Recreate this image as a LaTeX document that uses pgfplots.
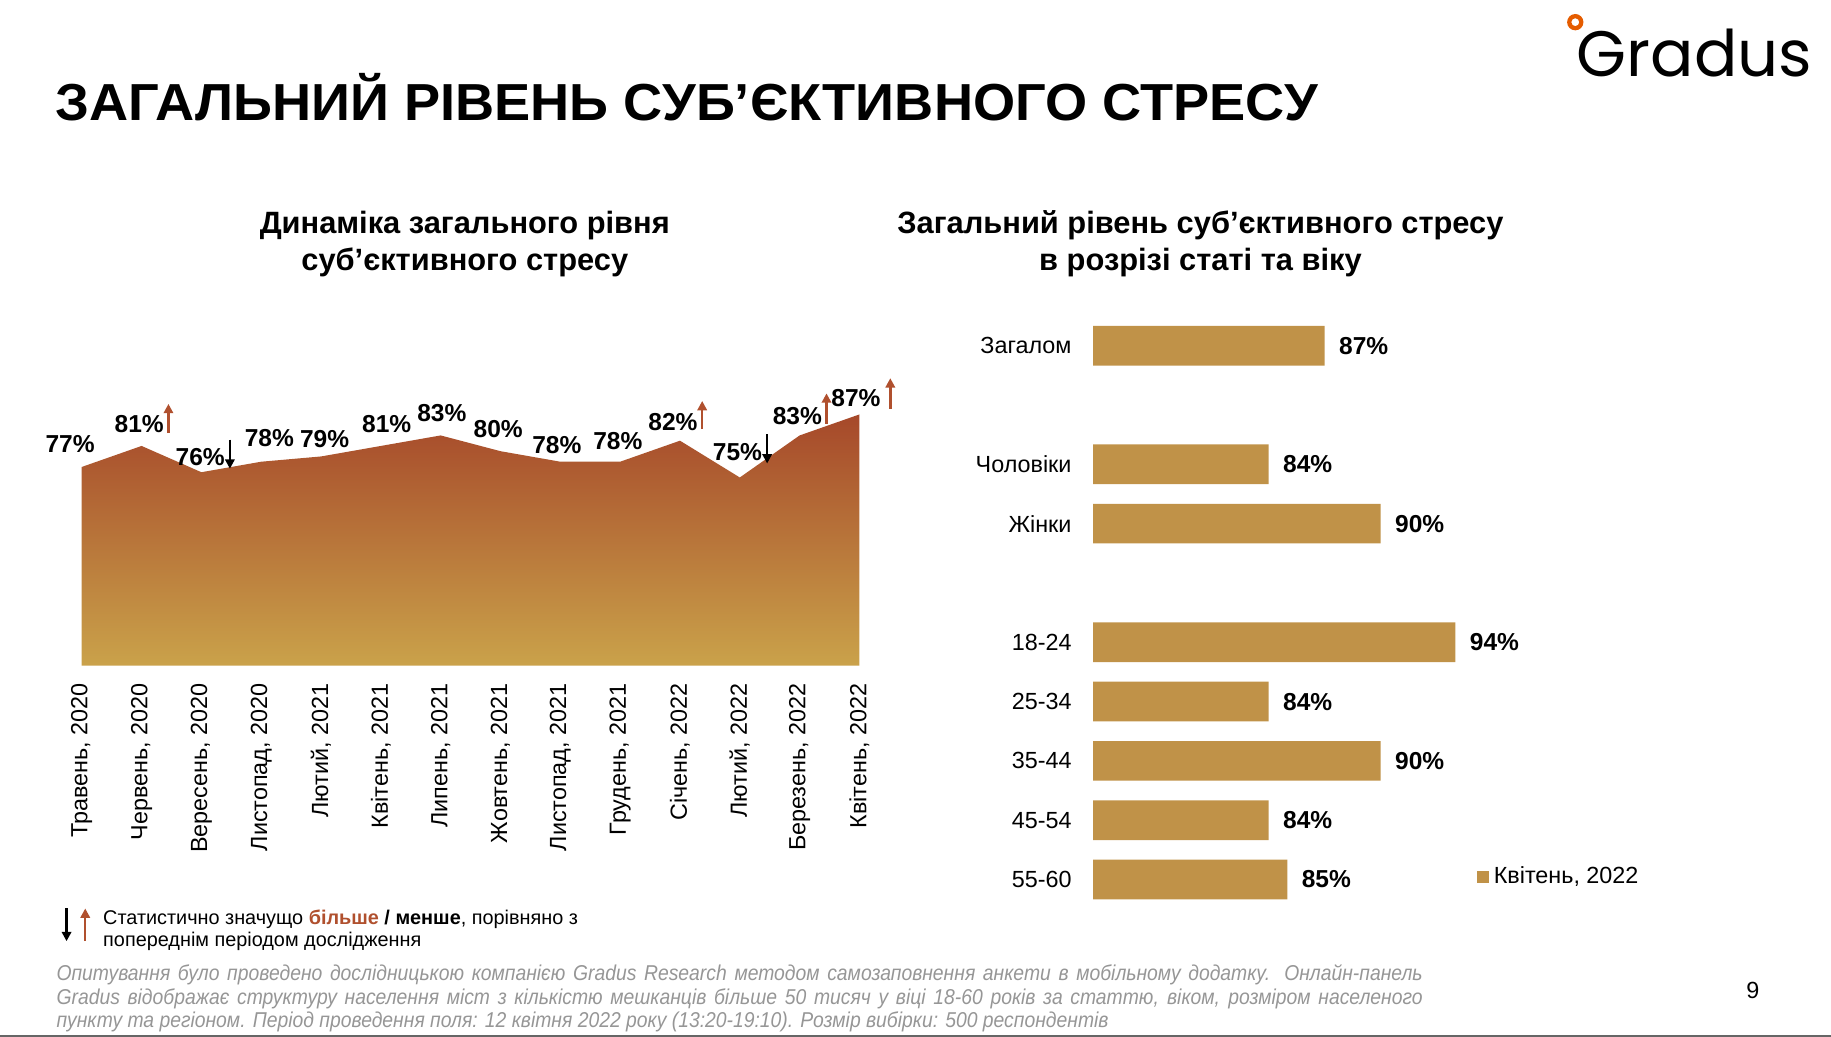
\documentclass[border=0pt]{standalone}
\usepackage{fontspec}
\setmainfont{Liberation Sans}
\newfontfamily\logofont{Poppins}
\newfontfamily\narrowfont[FakeStretch=0.9]{Liberation Sans}
\newfontfamily\titlefont[FakeStretch=1.04]{Liberation Sans}
\usepackage{pgfplots}
\pgfplotsset{compat=1.18}
\usepackage{pgfplotstable}
\usetikzlibrary{arrows.meta}
\definecolor{rust}{RGB}{166,72,42}
\definecolor{gold}{RGB}{202,162,74}
\definecolor{barcol}{RGB}{192,146,72}
\definecolor{arrowred}{RGB}{176,80,46}
\definecolor{notegray}{RGB}{150,150,150}

\pgfplotstableread{
idx v
0 77
1 81
2 76
3 78
4 79
5 81
6 83
7 80
8 78
9 78
10 82
11 75
12 83
13 87
}\dyn

\pgfplotstableread{
pos v
0 87
2 84
3 90
5 94
6 84
7 90
8 84
9 85
}\bars

\tikzset{
  uparr/.style={arrowred, line width=1.1pt, -{Triangle[width=4pt,length=4pt]}},
  downarr/.style={black, line width=1.1pt, -{Triangle[width=4pt,length=4pt]}},
  lbl/.style={font=\bfseries\fontsize{10.5}{12}\selectfont, inner sep=0pt},
}

\begin{document}
\begin{tikzpicture}
\useasboundingbox (0,0) rectangle (784pt,444pt);

% Title
\node[anchor=west, font=\titlefont\bfseries\fontsize{22.3}{24}\selectfont, inner sep=0pt] at (23.5pt,402.5pt) {ЗАГАЛЬНИЙ РІВЕНЬ СУБ’ЄКТИВНОГО СТРЕСУ};

% Logo
\fill[orange!80!red!90!black, even odd rule] (674.5pt,434.5pt) circle (3.5pt) circle (1.7pt);
\node[anchor=west, font=\logofont\fontsize{27.5}{30}\selectfont, inner sep=0pt] at (675pt,421.5pt) {Gradus};

% Subtitles
\node[align=center, font=\bfseries\fontsize{13.2}{16}\selectfont, inner sep=0pt] at (199pt,339.5pt) {Динаміка загального рівня\\суб’єктивного стресу};
\node[align=center, font=\bfseries\fontsize{13.2}{16}\selectfont, inner sep=0pt] at (514pt,339.5pt) {Загальний рівень суб’єктивного стресу\\в розрізі статі та віку};

% Left: area chart
\begin{axis}[
  at={(35pt,159pt)}, anchor=south west,
  width=333pt, height=136.8pt, scale only axis,
  xmin=0, xmax=13, ymin=39.2, ymax=100,
  clip=false,
  axis line style={draw=none},
  major tick length=0pt,
  ytick=\empty,
  xtick={0,...,13},
  xticklabels={{Травень, 2020},{Червень, 2020},{Вересень, 2020},{Листопад, 2020},{Лютий, 2021},{Квітень, 2021},{Липень, 2021},{Жовтень, 2021},{Листопад, 2021},{Грудень, 2021},{Січень, 2022},{Лютий, 2022},{Березень, 2022},{Квітень, 2022}},
  xticklabel style={rotate=90, anchor=east, inner sep=0pt, font=\fontsize{10}{12}\selectfont},
  xticklabel shift=7.5pt,
]
\addplot[draw=none, top color=rust, bottom color=gold] table[x=idx, y=v]{\dyn} \closedcycle;
\node[lbl] (l0) at (axis cs:0,77) [xshift=-5pt, yshift=10pt] {77\%};
\node[lbl] (l1) at (axis cs:1,81) [xshift=-1pt, yshift=9.5pt] {81\%};
\node[lbl] (l2) at (axis cs:2,76) [xshift=-0.5pt, yshift=6.5pt] {76\%};
\node[lbl] (l3) at (axis cs:3,78) [xshift=3.5pt, yshift=10pt] {78\%};
\node[lbl] (l4) at (axis cs:4,79) [xshift=1.5pt, yshift=7.5pt] {79\%};
\node[lbl] (l5) at (axis cs:5,81) [xshift=2.5pt, yshift=9.5pt] {81\%};
\node[lbl] (l6) at (axis cs:6,83) [xshift=0.5pt, yshift=9.5pt] {83\%};
\node[lbl] (l7) at (axis cs:7,80) [xshift=-1pt, yshift=9.5pt] {80\%};
\node[lbl] (l8) at (axis cs:8,78) [xshift=-1.5pt, yshift=7pt] {78\%};
\node[lbl] (l9) at (axis cs:9,78) [xshift=-1pt, yshift=9pt] {78\%};
\node[lbl] (l10) at (axis cs:10,82) [xshift=-3pt, yshift=8pt] {82\%};
\node[lbl] (l11) at (axis cs:11,75) [xshift=-1pt, yshift=11pt] {75\%};
\node[lbl] (l12) at (axis cs:12,83) [xshift=-1pt, yshift=8.5pt] {83\%};
\node[lbl] (l13) at (axis cs:13,87) [xshift=-1.5pt, yshift=7pt] {87\%};
\end{axis}

% significance arrows
\draw[uparr] ([xshift=1.8pt,yshift=-4pt]l1.east) -- ++(0,12.5pt);
\draw[downarr] ([xshift=2pt,yshift=7.5pt]l2.east) -- ++(0,-12.5pt);
\draw[uparr] ([xshift=1.8pt,yshift=-3pt]l10.east) -- ++(0,12pt);
\draw[downarr] ([xshift=2pt,yshift=7.5pt]l11.east) -- ++(0,-12.5pt);
\draw[uparr] ([xshift=1.8pt,yshift=-3.5pt]l12.east) -- ++(0,13pt);
\draw[uparr] ([xshift=4pt,yshift=-4.5pt]l13.east) -- ++(0,13pt);

% Right: bar chart
\begin{axis}[
  at={(468pt,54.7pt)}, anchor=south west,
  width=202pt, height=254pt, scale only axis,
  xmin=0, xmax=25.25, ymin=-0.5, ymax=9.5, y dir=reverse,
  xbar, bar width=17pt,
  clip=false,
  axis line style={draw=none},
  major tick length=0pt,
  xtick=\empty,
  ytick={0,2,3,5,6,7,8,9},
  yticklabels={Загалом,Чоловіки,Жінки,18-24,25-34,35-44,45-54,55-60},
  yticklabel style={anchor=east, inner sep=0pt, font=\fontsize{10}{12}\selectfont},
  yticklabel shift=9pt,
  point meta=explicit,
  /pgf/number format/assume math mode=true,
  nodes near coords={\pgfmathprintnumber{\pgfplotspointmeta}\%},
  nodes near coords style={anchor=west, inner sep=0pt, xshift=6pt, font=\bfseries\fontsize{10.5}{12}\selectfont},
  legend style={at={(0.814,0.054)}, anchor=west, draw=none, fill=none, inner sep=0pt, font=\fontsize{10}{12}\selectfont},
  legend image code/.code={\fill[barcol] (0pt,-2.5pt) rectangle (5pt,2.5pt);},
]
\addplot[fill=barcol, draw=none] table[x expr=\thisrow{v}-74.6, y=pos, meta=v]{\bars};
\addlegendentry{Квітень, 2022}
\end{axis}

% significance note
\draw[downarr, line width=1pt] (28.5pt,55pt) -- (28.5pt,41pt);
\draw[uparr, line width=1pt] (36.5pt,41pt) -- (36.5pt,55pt);
\node[anchor=north west, align=left, inner sep=0pt, font=\fontsize{8.5}{9.5}\selectfont] at (44pt,54.5pt)
  {Статистично значущо {\bfseries\color{arrowred}більше} {\bfseries / менше}, порівняно з\\попереднім періодом дослідження};

% footnote
\node[anchor=north west, inner sep=0pt, text=notegray] at (24pt,31pt)
  {\parbox{585pt}{\narrowfont\fontsize{9.2}{10}\selectfont\itshape Опитування було проведено дослідницькою компанією Gradus Research методом самозаповнення анкети в мобільному додатку. Онлайн-панель\linebreak Gradus відображає структуру населення міст з кількістю мешканців більше 50 тисяч у віці 18-60 років за статтю, віком, розміром населеного\linebreak пункту та регіоном. Період проведення поля: 12 квітня 2022 року (13:20-19:10). Розмір вибірки: 500 респондентів}};

\node[inner sep=0pt, font=\fontsize{10}{12}\selectfont] at (750.5pt,20pt) {9};
\fill[black!60] (0,0) rectangle (784pt,1pt);
\end{tikzpicture}
\end{document}
